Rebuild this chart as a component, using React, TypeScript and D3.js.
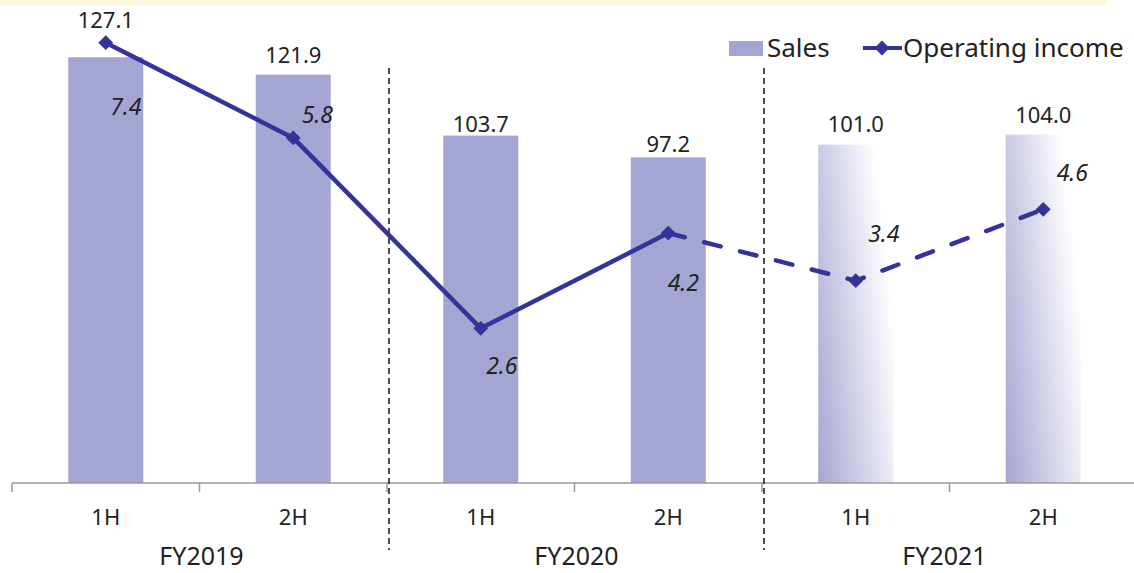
import React from 'react';
import * as d3 from 'd3';

const halves = ['1H', '2H', '1H', '2H', '1H', '2H'];
const fiscalYears = ['FY2019', 'FY2020', 'FY2021'];
const sales = [127.1, 121.9, 103.7, 97.2, 101.0, 104.0];
const operatingIncome = [7.4, 5.8, 2.6, 4.2, 3.4, 4.6];
const isForecast = [false, false, false, false, true, true];

// layout nudges for the hand-placed labels
const salesLabelGap = [29, 12, 4, 5, 13, 12];
const incomeLabelNudge: [number, number][] = [[20, 72], [24, -15], [21, 46], [15, 58], [28, -39], [29, -28]];

const W = 1134;
const H = 573;
const FONT = '"Noto Sans", "DejaVu Sans", sans-serif';
const BAR = '#a5a5d3';
const LINE = '#333399';
const TEXT = '#222';

const App: React.FC = () => {
    const axisY = 483;
    const idx = halves.map((_, i) => String(i));

    const x = d3.scaleBand().domain(idx).range([12, 12 + 187.5 * 6]).padding(0);
    const barW = x.bandwidth() * 0.4;
    const cx = (i: number) => (x(String(i)) || 0) + x.bandwidth() / 2;

    const ySales = d3.scaleLinear().domain([0, 140]).range([axisY, 14]);
    const yInc = d3.scaleLinear().domain([0, 8]).range([axisY, 7]);

    const pts: [number, number][] = operatingIncome.map((v, i) => [cx(i), yInc(v)]);
    const line = d3.line();
    const solidPts = pts.slice(0, 4);
    const dashedPts = pts.slice(3);

    const diamond = d3.symbol().type(d3.symbolDiamond2).size(140)() || '';

    return (
        <svg width={W} height={H} style={{ position: 'absolute', left: 0, top: 0, fontFamily: FONT }}>
            <defs>
                <linearGradient id="fcGrad" x1="0" y1="1" x2="1" y2="0.5">
                    <stop offset="0%" stopColor="#a5a5d3" />
                    <stop offset="100%" stopColor="#ffffff" />
                </linearGradient>
            </defs>
            <rect x={0} y={0} width={W} height={H} fill="#fff" />
            <rect x={0} y={0} width={1107} height={5} fill="#fdf7e0" />

            {sales.map((v, i) => (
                <rect
                    key={i}
                    x={cx(i) - barW / 2}
                    y={ySales(v)}
                    width={barW}
                    height={axisY - ySales(v)}
                    fill={isForecast[i] ? 'url(#fcGrad)' : BAR}
                />
            ))}

            {/* axis */}
            <line x1={12} x2={W} y1={axisY} y2={axisY} stroke="#9a9a9a" strokeWidth={1.5} />
            {d3.range(7).map(i => {
                const tx = 12 + x.step() * i;
                return <line key={i} x1={tx} x2={tx} y1={axisY} y2={axisY + 9} stroke="#9a9a9a" strokeWidth={1.5} />;
            })}

            {/* fiscal year separators */}
            {[2, 4].map(i => {
                const sx = (x(String(i)) || 0) + 2;
                return <line key={i} x1={sx} x2={sx} y1={68} y2={550} stroke="#111" strokeWidth={1.5} strokeDasharray="6 4" />;
            })}

            {halves.map((h, i) => (
                <text key={i} x={cx(i)} y={525} textAnchor="middle" fontSize={22} fill={TEXT}>{h}</text>
            ))}
            {fiscalYears.map((fy, g) => (
                <text key={fy} x={(cx(g * 2) + cx(g * 2 + 1)) / 2 + (g === 2 ? -5 : 2)} y={565} textAnchor="middle" fontSize={25} fill={TEXT}>{fy}</text>
            ))}

            {/* operating income line */}
            <path d={line(solidPts) || ''} fill="none" stroke={LINE} strokeWidth={4.5} strokeLinejoin="round" />
            <path d={line(dashedPts) || ''} fill="none" stroke={LINE} strokeWidth={4.5} strokeDasharray="17 20" strokeLinecap="round" />
            {pts.map(([px, py], i) => (
                <path key={i} d={diamond} transform={`translate(${px},${py})`} fill={LINE} />
            ))}

            {/* sales labels */}
            {sales.map((v, i) => (
                <text key={i} x={cx(i)} y={ySales(v) - salesLabelGap[i]} textAnchor="middle" fontSize={22} fill={TEXT}>
                    {v.toFixed(1)}
                </text>
            ))}

            {/* operating income labels */}
            {operatingIncome.map((v, i) => (
                <text key={i} x={pts[i][0] + incomeLabelNudge[i][0]} y={pts[i][1] + incomeLabelNudge[i][1]} textAnchor="middle" fontSize={23} fontStyle="italic" fill={TEXT}>
                    {v.toFixed(1)}
                </text>
            ))}

            {/* legend */}
            <g>
                <rect x={729} y={41} width={34} height={15} fill={BAR} />
                <text x={767} y={57} fontSize={26} fill={TEXT}>Sales</text>
                <line x1={863} x2={902} y1={48} y2={48} stroke={LINE} strokeWidth={4} />
                <path d={diamond} transform="translate(882,48)" fill={LINE} />
                <text x={903} y={57} fontSize={26} fill={TEXT}>Operating income</text>
            </g>
        </svg>
    );
};

export default App;
